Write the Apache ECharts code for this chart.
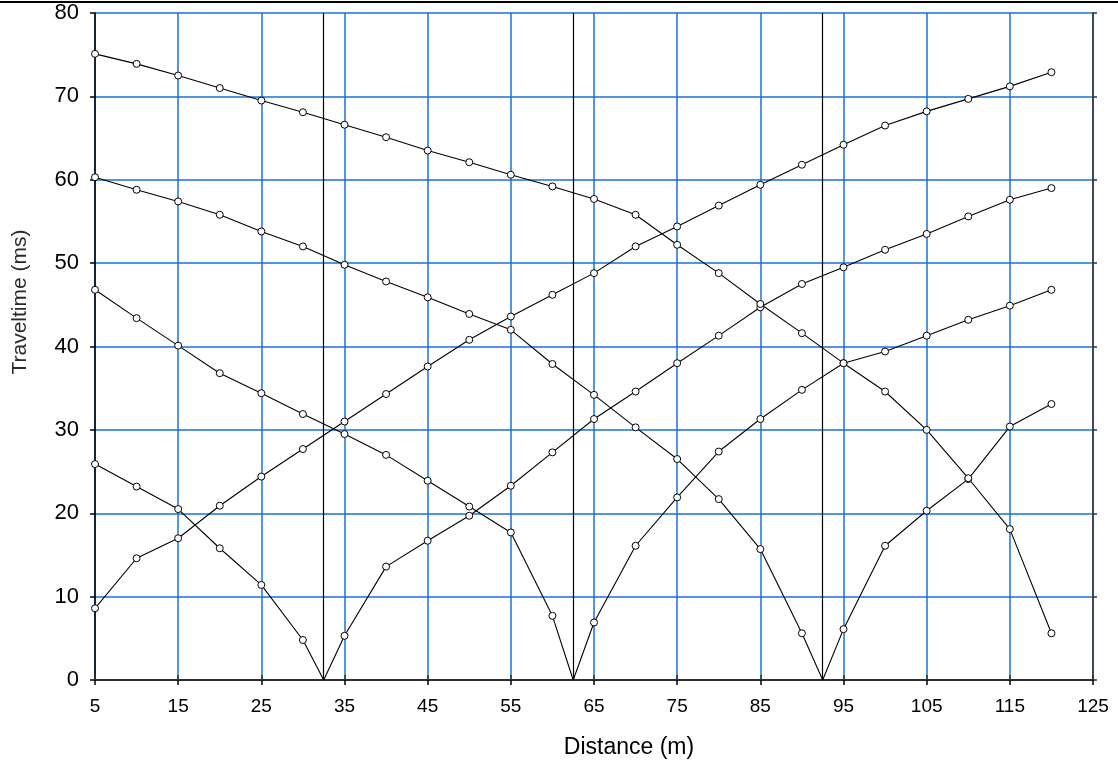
<!DOCTYPE html>
<html>
<head>
<meta charset="utf-8">
<script src="https://cdn.jsdelivr.net/npm/echarts@6/dist/echarts.min.js"></script>
<style>
  html, body { margin: 0; padding: 0; background: #fff; }
  #chart { width: 1118px; height: 765px; }
</style>
</head>
<body>
<div id="chart"></div>
<script>
// Receiver positions (m)
const receiverX = [5,10,15,20,25,30,35,40,45,50,55,60,65,70,75,80,85,90,95,100,105,110,115,120];
// Shot positions inside the spread (m) – vertical lines and zero-time vertices
const shotX = [32.5, 62.5, 92.5];
// Axis ticks
const xTicks = { min: 5, max: 125, step: 10 };
const yTicks = { min: 0, max: 80, step: 10 };

// Travel times (ms) for each shot, one value per receiver
const timesShotWest = [8.6,14.6,17.0,20.9,24.4,27.7,31.0,34.3,37.6,40.8,43.6,46.2,48.8,52.0,54.4,56.9,59.4,61.8,64.2,66.5,68.2,69.7,71.2,72.9];
const timesShot32 = [25.9,23.2,20.5,15.8,11.4,4.8,5.3,13.6,16.7,19.7,23.3,27.3,31.3,34.6,38.0,41.3,44.7,47.5,49.5,51.6,53.5,55.6,57.6,59.0];
const timesShot62 = [46.8,43.4,40.1,36.8,34.4,31.9,29.5,27.0,23.9,20.8,17.7,7.7,6.9,16.1,21.9,27.4,31.3,34.8,38.0,39.4,41.3,43.2,44.9,46.8];
const timesShot92 = [60.3,58.8,57.4,55.8,53.8,52.0,49.8,47.8,45.9,43.9,42.0,37.9,34.2,30.3,26.5,21.7,15.7,5.6,6.1,16.1,20.3,24.1,30.4,33.1];
const timesShotEast = [75.1,73.9,72.5,71.0,69.5,68.1,66.6,65.1,63.5,62.1,60.6,59.2,57.7,55.8,52.2,48.8,45.1,41.6,38.0,34.6,30.0,24.2,18.1,5.6];

const shots = [
  { times: timesShotWest, pos: null },
  { times: timesShot32, pos: shotX[0] },
  { times: timesShot62, pos: shotX[1] },
  { times: timesShot92, pos: shotX[2] },
  { times: timesShotEast, pos: null }
];

function buildData(times, pos) {
  const data = [];
  let inserted = pos === null;
  receiverX.forEach((x, i) => {
    if (!inserted && x > pos) {
      data.push({ value: [pos, 0], symbol: 'none' });
      inserted = true;
    }
    data.push([x, times[i]]);
  });
  return data;
}

const gridBlue = '#1872d8';
const font = 'Liberation Sans, Arial, sans-serif';

const series = shots.map((s, idx) => ({
  type: 'line',
  data: buildData(s.times, s.pos),
  symbol: 'circle',
  symbolSize: 7,
  showSymbol: true,
  lineStyle: { color: '#000', width: 1.1 },
  itemStyle: { color: '#fff', borderColor: '#000', borderWidth: 1 },
  z: 3,
  markLine: idx === 0 ? {
    silent: true,
    symbol: ['none', 'none'],
    label: { show: false },
    lineStyle: { color: '#000', width: 1.2, type: 'solid' },
    data: shotX.map(x => ({ xAxis: x }))
  } : undefined
}));

const chart = echarts.init(document.getElementById('chart'), null, { renderer: 'canvas' });
chart.setOption({
  animation: false,
  backgroundColor: '#fff',
  grid: { left: 95, right: 25, top: 13, bottom: 85 },
  xAxis: [
    {
      type: 'value', position: 'bottom',
      min: xTicks.min, max: xTicks.max, interval: xTicks.step,
      axisLine: { show: true, lineStyle: { color: '#000', width: 1.5 } },
      axisTick: { show: true, inside: false, length: 5, lineStyle: { color: '#000', width: 1.5 } },
      axisLabel: { show: true, margin: 17, color: '#000', fontSize: 19, fontFamily: font },
      splitLine: { show: true, lineStyle: { color: gridBlue, width: 1.5 } }
    },
    {
      type: 'value', position: 'top',
      min: xTicks.min, max: xTicks.max, interval: xTicks.step,
      axisLine: { show: true, lineStyle: { color: '#333', width: 1.5 } },
      axisTick: { show: true, inside: false, length: 5, lineStyle: { color: '#333', width: 1.5 } },
      axisLabel: { show: false },
      splitLine: { show: false }
    }
  ],
  yAxis: [
    {
      type: 'value', position: 'left',
      min: yTicks.min, max: yTicks.max, interval: yTicks.step,
      axisLine: { show: true, lineStyle: { color: '#000', width: 1.5 } },
      axisTick: { show: true, inside: false, length: 5, lineStyle: { color: '#000', width: 1.5 } },
      axisLabel: { show: true, margin: 16, color: '#000', fontSize: 22, fontFamily: font },
      splitLine: { show: true, lineStyle: { color: gridBlue, width: 1.5 } }
    },
    {
      type: 'value', position: 'right',
      min: yTicks.min, max: yTicks.max, interval: yTicks.step,
      axisLine: { show: true, lineStyle: { color: '#333', width: 1.5 } },
      axisTick: { show: true, inside: false, length: 4, lineStyle: { color: '#333', width: 1.5 } },
      axisLabel: { show: false },
      splitLine: { show: false }
    }
  ],
  series: series,
  graphic: [
    { type: 'rect', left: 0, top: 1, shape: { width: 1118, height: 2 }, style: { fill: '#000' }, silent: true },
    {
      type: 'text', x: 629, y: 748,
      style: { text: 'Distance (m)', font: '23px ' + font, fill: '#000', textAlign: 'center', textVerticalAlign: 'middle' }
    },
    {
      type: 'text', x: 20, y: 302, rotation: Math.PI / 2,
      style: { text: 'Traveltime (ms)', font: '21px ' + font, fill: '#2a2a2a', textAlign: 'center', textVerticalAlign: 'middle' }
    }
  ]
});
</script>
</body>
</html>
